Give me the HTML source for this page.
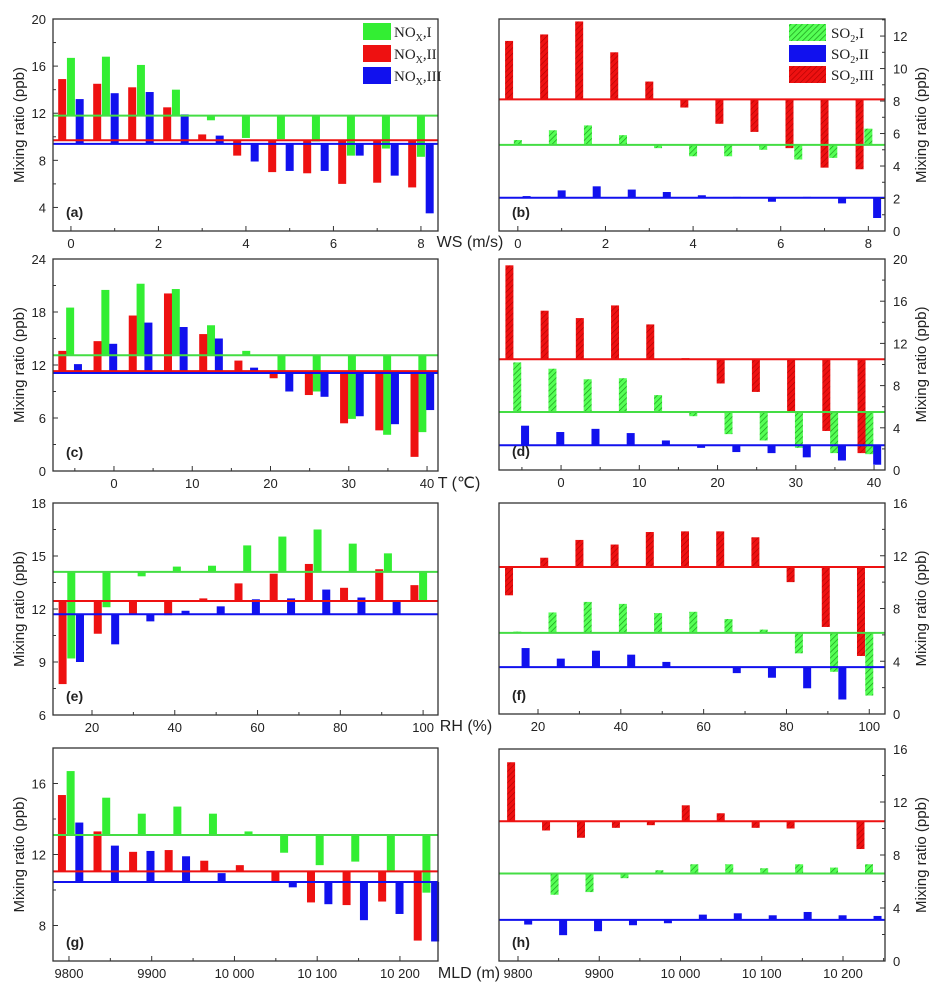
<!DOCTYPE html>
<html><head><meta charset="utf-8"><style>
html,body{margin:0;padding:0;background:#fff;}
svg{display:block;font-family:"Liberation Sans",sans-serif;}
</style></head><body>
<svg id="chart" width="945" height="994" viewBox="0 0 945 994" xmlns="http://www.w3.org/2000/svg">
<defs>
<pattern id="hatchG" patternUnits="userSpaceOnUse" width="4" height="4" patternTransform="rotate(45)">
<rect width="4" height="4" fill="#55ff55"/><line x1="0" y1="0" x2="0" y2="4" stroke="#1a9a1a" stroke-width="1.4"/></pattern>
<pattern id="hatchR" patternUnits="userSpaceOnUse" width="4" height="4" patternTransform="rotate(45)">
<rect width="4" height="4" fill="#ee1111"/><line x1="0" y1="0" x2="0" y2="4" stroke="#b00000" stroke-width="1.2"/></pattern>
</defs>
<g id="layer"></g>
</svg>
<script>
// ---- data ----
const aX=[0,0.8,1.6,2.4,3.2,4.0,4.8,5.6,6.4,7.2,8.0];
const aGreen=[16.7,16.8,16.1,14.0,11.4,9.9,9.8,9.6,8.4,9.0,8.3];
const aRed=[14.9,14.5,14.2,12.5,10.2,8.4,7.0,6.9,6.0,6.1,5.7];
const aBlue=[13.2,13.7,13.8,11.9,10.1,7.9,7.1,7.1,8.4,6.7,3.5];
const aBase=[11.8,9.7,9.4];
const bRed=[11.7,12.1,12.9,11.0,9.2,7.6,6.6,6.1,5.1,3.9,3.8];
const bGreen=[5.6,6.2,6.5,5.9,5.1,4.6,4.6,5.0,4.4,4.5,6.3];
const bBlue=[2.15,2.5,2.75,2.55,2.4,2.2,2.1,1.8,2.1,1.7,0.8];
const bBase=[5.3,2.05,8.1];
const cX=[-5.6,-1.1,3.4,7.9,12.4,16.9,21.4,25.9,30.4,34.9,39.4];
const cGreen=[18.5,20.5,21.2,20.6,16.5,13.6,11.0,9.0,5.9,4.1,4.4];
const cRed=[13.6,14.7,17.6,20.1,15.5,12.5,10.5,8.6,5.4,4.6,1.6];
const cBlue=[12.1,14.4,16.8,16.3,15.0,11.7,9.0,8.4,6.2,5.3,6.9];
const cBase=[13.1,11.3,11.1];
const dRed=[19.4,15.1,14.4,15.6,13.8,10.6,8.2,7.4,5.5,3.7,1.6];
const dGreen=[10.2,9.6,8.6,8.7,7.1,5.1,3.4,2.8,2.1,1.6,1.5];
const dBlue=[4.2,3.6,3.9,3.5,2.8,2.1,1.7,1.6,1.2,0.9,0.5];
const dBase=[5.5,2.35,10.5];
const eX=[15,23.5,32,40.5,49,57.5,66,74.5,83,91.5,100];
const eGreen=[9.2,12.1,13.85,14.4,14.45,15.6,16.1,16.5,15.7,15.15,12.5];
const eRed=[7.75,10.6,11.7,11.65,12.6,13.45,14.0,14.55,13.2,14.25,13.35];
const eBlue=[9.0,10.0,11.3,11.9,12.15,12.55,12.6,13.1,12.65,12.5,11.7];
const eBase=[14.1,12.45,11.7];
const fRed=[9.0,11.85,13.2,12.85,13.8,13.85,13.85,13.4,10.0,6.6,4.4];
const fGreen=[6.25,7.7,8.5,8.35,7.65,7.75,7.2,6.4,4.6,3.2,1.4];
const fBlue=[5.0,4.2,4.8,4.5,3.95,3.6,3.1,2.75,1.95,1.1,3.55];
const fBase=[6.15,3.55,11.15];
const gX=[9802,9845,9888,9931,9974,10017,10060,10103,10146,10189,10232];
const gGreen=[16.7,15.2,14.3,14.7,14.3,13.3,12.1,11.4,11.6,11.1,9.85];
const gRed=[15.35,13.3,12.15,12.25,11.65,11.4,10.5,9.3,9.15,9.35,7.15];
const gBlue=[13.8,12.5,12.2,11.9,10.95,10.5,10.15,9.2,8.3,8.65,7.1];
const gBase=[13.1,11.05,10.45];
const hRed=[15.0,9.85,9.3,10.05,10.25,11.75,11.15,10.05,10.0,10.5,8.45];
const hGreen=[6.6,5.0,5.2,6.25,6.85,7.3,7.3,7.0,7.3,7.05,7.3];
const hBlue=[2.75,1.95,2.25,2.7,2.85,3.5,3.6,3.45,3.7,3.45,3.4];
const hBase=[6.6,3.1,10.55];
const wsTicks=[0,2,4,6,8];
const tTicks=[0,10,20,30,40];
const rhTicks=[20,40,60,80,100];
const mldTicks=[9800,9900,10000,10100,10200];
const mldLabels=["9800","9900","10 000","10 100","10 200"];

const NS="http://www.w3.org/2000/svg";
const layer=document.getElementById('layer');
function mk(tag,attrs,parent){const e=document.createElementNS(NS,tag);for(const k in attrs)e.setAttribute(k,attrs[k]);(parent||layer).appendChild(e);return e;}

const GREEN="#33ee33",RED="#ee1111",BLUE="#1111ee";

function panel(p){
  const g=mk('g',{});
  
  
  const sx=v=>p.x0+(v-p.xd[0])/(p.xd[1]-p.xd[0])*(p.x1-p.x0);
  const sy=v=>p.y1-(v-p.yd[0])/(p.yd[1]-p.yd[0])*(p.y1-p.y0);
  const bw=8;
  p.series.forEach(s=>{
    s.vals.forEach((v,i)=>{
      const cx=sx(p.xs[i]+s.off);
      const y1=sy(v),y2=sy(s.base);
      const r=mk('rect',{x:cx-bw/2,y:Math.min(y1,y2),width:bw,height:Math.max(Math.abs(y2-y1),0.6),fill:s.fill},g);
      
      
    });
  });
  p.series.forEach(s=>{
    const l=mk('line',{x1:p.x0,x2:p.x1,y1:sy(s.base),y2:sy(s.base),stroke:s.line,'stroke-width':2},g);
    
    
  });
  const fr=mk('rect',{x:p.x0,y:p.y0,width:p.x1-p.x0,height:p.y1-p.y0,fill:'none',stroke:'#333','stroke-width':1.3},g);
  
  
  // x ticks
  p.xt.forEach((v,i)=>{
    const x=sx(v);
    mk('line',{x1:x,x2:x,y1:p.y1,y2:p.y1-5,stroke:'#333'},g);
    const t=mk('text',{x:x,y:p.y1+17,'font-size':13,'text-anchor':'middle',fill:'#222'},g);
    t.textContent=p.xl?p.xl[i]:String(v);
    
    
  });
  for(let v=p.xt[0]-p.xm;v<=p.xd[1];v+=p.xm*2){if(v>p.xd[0]){const x=sx(v);mk('line',{x1:x,x2:x,y1:p.y1,y2:p.y1-3,stroke:'#333'},g);}}
  // y ticks
  const right=p.right;
  const ax=right?p.x1:p.x0, dir=right?-1:1;
  for(let v=p.yt0;v<=p.yd[1]+1e-6;v+=p.ys){
    const y=sy(v);
    mk('line',{x1:ax,x2:ax+dir*5,y1:y,y2:y,stroke:'#333'},g);
    const t=mk('text',{x:right?ax+8:ax-7,y:y+5,'font-size':13,'text-anchor':right?'start':'end',fill:'#222'},g);
    t.textContent=String(v);
    
    
  }
  for(let v=p.yt0-p.ys/2;v<p.yd[1];v+=p.ys){if(v>p.yd[0]){const y=sy(v);mk('line',{x1:ax,x2:ax+dir*3,y1:y,y2:y,stroke:'#333'},g);}}
  const lab=mk('text',{x:p.x0+13,y:p.y1-14,'font-size':14,'font-weight':'bold',fill:'#222'},g);
  lab.textContent='('+p.id+')';
  
  
  const yt=mk('text',{'font-size':15,'text-anchor':'middle',fill:'#222',transform:right?`translate(${926},${(p.y0+p.y1)/2}) rotate(-90)`:`translate(${24},${(p.y0+p.y1)/2}) rotate(-90)`},g);
  yt.textContent='Mixing ratio (ppb)';
  
  
}
const L={x0:53,x1:438}, R={x0:499,x1:885};
const noS=(a,b,c,base)=>[
  {name:'nox-i',vals:a,base:base[0],off:0,fill:GREEN,line:'#44dd44'},
  {name:'nox-ii',vals:b,base:base[1],off:-1,fill:RED,line:RED},
  {name:'nox-iii',vals:c,base:base[2],off:1,fill:BLUE,line:BLUE}];
const soS=(a,b,c,base)=>[
  {name:'so2-i',vals:a,base:base[0],off:0,fill:'url(#hatchG)',line:'#44dd44'},
  {name:'so2-ii',vals:b,base:base[1],off:1,fill:BLUE,line:BLUE},
  {name:'so2-iii',vals:c,base:base[2],off:-1,fill:'url(#hatchR)',line:RED}];
function sc(arr,k){arr.forEach(s=>s.off*=k);return arr;}
panel({id:'a',...L,y0:19,y1:231,xd:[-0.41,8.39],yd:[2,20],xs:aX,series:sc(noS(aGreen,aRed,aBlue,aBase),0.2),xt:wsTicks,xm:1,yt0:4,ys:4});
panel({id:'b',...R,y0:19,y1:231,xd:[-0.43,8.38],yd:[0,13.05],xs:aX,series:sc(soS(bGreen,bBlue,bRed,bBase),0.2),xt:wsTicks,xm:1,yt0:0,ys:2,right:true});
panel({id:'c',...L,y0:259,y1:471,xd:[-7.79,41.4],yd:[0,24],xs:cX,series:sc(noS(cGreen,cRed,cBlue,cBase),1.0),xt:tTicks,xm:5,yt0:0,ys:6});
panel({id:'d',...R,y0:259,y1:470,xd:[-7.93,41.4],yd:[0,20],xs:cX,series:sc(soS(dGreen,dBlue,dRed,dBase),1.0),xt:tTicks,xm:5,yt0:0,ys:4,right:true});
panel({id:'e',...L,y0:503,y1:715,xd:[10.58,103.6],yd:[6,18],xs:eX,series:sc(noS(eGreen,eRed,eBlue,eBase),2.1),xt:rhTicks,xm:10,yt0:6,ys:3});
panel({id:'f',...R,y0:503,y1:714,xd:[10.58,103.8],yd:[0,16],xs:eX,series:sc(soS(fGreen,fBlue,fRed,fBase),2.0),xt:rhTicks,xm:10,yt0:0,ys:4,right:true});
panel({id:'g',...L,y0:748,y1:961,xd:[9780.7,10246],yd:[6,18],xs:gX,series:sc(noS(gGreen,gRed,gBlue,gBase),10.5),xt:mldTicks,xl:mldLabels,xm:50,yt0:8,ys:4});
panel({id:'h',...R,y0:749,y1:961,xd:[9776.6,10251.7],yd:[0,16],xs:gX,series:sc(soS(hGreen,hBlue,hRed,hBase),10.5),xt:mldTicks,xl:mldLabels,xm:50,yt0:0,ys:4,right:true});

// x axis titles
[['WS (m/s)',470,247,'x-axis-title-ws'],['T (℃)',459,488,'x-axis-title-t'],['RH (%)',466,731,'x-axis-title-rh'],['MLD (m)',469,978,'x-axis-title-mld']].forEach(a=>{
  const t=mk('text',{x:a[1],y:a[2],'font-size':16,'text-anchor':'middle',fill:'#222'});
  t.textContent=a[0];
  
  
});
// legends
function legend(x,tx,rows,name){
  const g=mk('g',{});
  
  
  rows.forEach(r=>{
    const rc=mk('rect',{x:x,y:r[2]-8,width:x<500?28:37,height:17,fill:r[0]},g);
    
    
    const t=mk('text',{x:tx,y:r[2]+6,'font-size':15,fill:'#222',style:'font-family:"Liberation Serif",serif'},g);
    t.innerHTML=r[1];
    
    
  });
}
legend(363,394,[[GREEN,'NO<tspan font-size="10" dy="4">X</tspan><tspan dy="-4">,I</tspan>',31],[RED,'NO<tspan font-size="10" dy="4">X</tspan><tspan dy="-4">,II</tspan>',53],[BLUE,'NO<tspan font-size="10" dy="4">X</tspan><tspan dy="-4">,III</tspan>',75]],'legend-nox');
legend(789,831,[['url(#hatchG)','SO<tspan font-size="10" dy="4">2</tspan><tspan dy="-4">,I</tspan>',32],[BLUE,'SO<tspan font-size="10" dy="4">2</tspan><tspan dy="-4">,II</tspan>',53],['url(#hatchR)','SO<tspan font-size="10" dy="4">2</tspan><tspan dy="-4">,III</tspan>',74]],'legend-so2');
</script>
</body></html>
